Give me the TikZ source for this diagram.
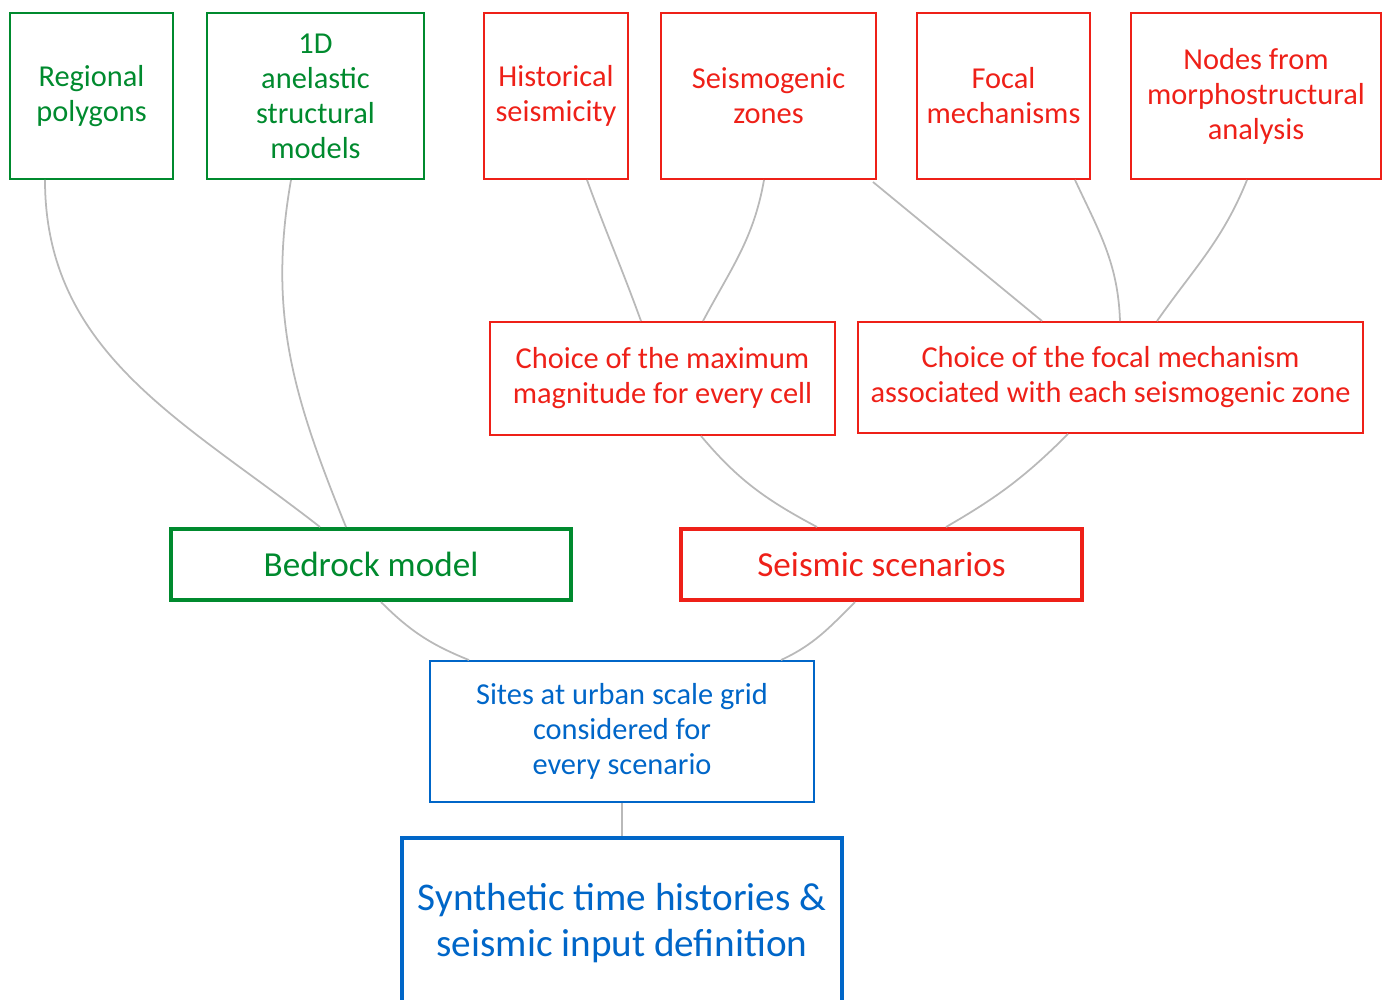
\documentclass[tikz,border=0pt]{standalone}
\usepackage{fontspec}
\setmainfont{Carlito}
\definecolor{boxgreen}{RGB}{0,138,46}
\definecolor{boxred}{RGB}{238,32,24}
\definecolor{boxblue}{RGB}{0,102,200}
\definecolor{linkgray}{RGB}{185,185,185}
\tikzset{
    box/.style={draw,inner sep=0pt,align=center,line width=1.1pt,minimum height=3.32cm,
        font=\fontsize{17.3}{19.9}\selectfont},
    greenbox/.style={box,draw=boxgreen,text=boxgreen},
    redbox/.style={box,draw=boxred,text=boxred},
    bluebox/.style={box,draw=boxblue,text=boxblue},
    bigbox/.style={line width=2.3pt,font=\fontsize{20}{24}\selectfont},
    link/.style={draw=linkgray,line width=1pt}
}
\begin{document}
\begin{tikzpicture}
            \useasboundingbox (0,0) rectangle (27.72,-19.98);
            \clip (0,0) rectangle (27.72,-19.98);

            % input data
            \node[greenbox,minimum width=3.26cm] (regional) at (1.83,-1.92) {Regional\\polygons};
            \node[greenbox,minimum width=4.34cm] (oned) at (6.31,-1.92) {1D\\anelastic\\structural\\models};
            \node[redbox,minimum width=2.88cm] (hist) at (11.12,-1.92) {Historical\\seismicity};
            \node[redbox,minimum width=4.30cm] (zones) at (15.37,-1.92) {Seismogenic\\zones};
            \node[redbox,minimum width=3.46cm] (focal) at (20.07,-1.92) {Focal\\mechanisms};
            \node[redbox,minimum width=5.00cm] (morpho) at (25.12,-1.92) {Nodes from\\morphostructural\\analysis};

            % choices
            \node[redbox,minimum width=6.90cm,minimum height=2.26cm] (maxmag) at (13.25,-7.57) {Choice of the maximum\\magnitude for every cell};
            \node[redbox,minimum width=10.10cm,minimum height=2.22cm] (focchoice) at (22.21,-7.55) {Choice of the focal mechanism\\associated with each seismogenic zone};

            % models
            \node[greenbox,bigbox,minimum width=8.00cm,minimum height=1.42cm] (bedrock) at (7.42,-11.29) {Bedrock model};
            \node[redbox,bigbox,minimum width=8.02cm,minimum height=1.42cm] (scen) at (17.63,-11.29) {Seismic scenarios};

            \node[bluebox,minimum width=7.68cm,minimum height=2.82cm] (sites) at (12.44,-14.63) {Sites at urban scale grid\\considered for\\every scenario};
            \node[bluebox,line width=2.3pt,minimum width=8.80cm,minimum height=3.40cm,
                font=\fontsize{22.3}{26}\selectfont] (synth) at (12.44,-18.46) {Synthetic time histories \&\\seismic input definition};

            % links
            \draw[link] ([xshift=-0.93cm]regional.south) to[out=-90,in=142] ([xshift=-1.02cm]bedrock.north);
            \draw[link] ([xshift=-0.49cm]oned.south) to[out=-100,in=112] ([xshift=-0.50cm]bedrock.north);
            \draw[link] ([xshift=0.62cm]hist.south) to[out=-70,in=110] ([xshift=-0.43cm]maxmag.north);
            \draw[link] ([xshift=-0.09cm]zones.south) to[out=-100,in=62] ([xshift=0.81cm]maxmag.north);
            \draw[link] ([xshift=-0.08cm,yshift=-0.04cm]zones.south east) -- ([xshift=-1.37cm]focchoice.north);
            \draw[link] ([xshift=1.43cm]focal.south) to[out=-65,in=92] ([xshift=0.19cm]focchoice.north);
            \draw[link] ([xshift=-0.18cm]morpho.south) to[out=-112,in=55] ([xshift=0.93cm]focchoice.north);
            \draw[link] ([xshift=0.77cm]maxmag.south) to[out=-50,in=152] ([xshift=-1.29cm]scen.north);
            \draw[link] ([xshift=-0.85cm]focchoice.south) to[out=-135,in=30] ([xshift=1.29cm]scen.north);
            \draw[link] ([xshift=0.20cm]bedrock.south) to[out=-45,in=158] ([xshift=-3.06cm]sites.north);
            \draw[link] ([xshift=-0.53cm]scen.south) to[out=-135,in=25] ([xshift=3.18cm]sites.north);
            \draw[link] (sites.south) -- (synth.north);
        \end{tikzpicture}
\end{document}
